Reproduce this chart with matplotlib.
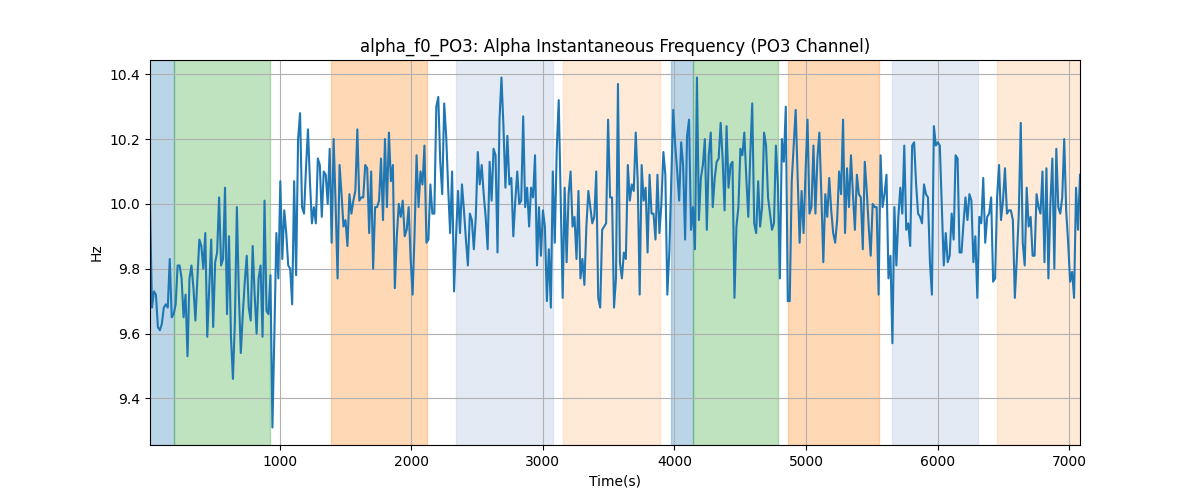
import matplotlib
matplotlib.use('Agg')
import matplotlib.pyplot as plt
import numpy as np

# --- data --------------------------------------------------------------
t_start = 16.0
t_end = 7082.0

alpha_f0 = [
    10.00, 9.68, 9.73, 9.72, 9.62, 9.61, 9.63, 9.68, 9.69, 9.68, 9.83, 9.65, 9.66, 9.69, 9.81,
    9.81, 9.77, 9.65, 9.72, 9.53, 9.77, 9.81, 9.74, 9.64, 9.77, 9.89, 9.87, 9.80, 9.91, 9.59,
    9.74, 9.89, 9.62, 9.82, 9.85, 10.02, 9.81, 9.83, 10.05, 9.66, 9.90, 9.59, 9.46, 9.64, 9.99,
    9.72, 9.54, 9.66, 9.76, 9.84, 9.68, 9.64, 9.87, 9.72, 9.60, 9.77, 9.81, 9.59, 10.01,
    # ~900 - 1800 s
    9.67, 9.66, 9.78, 9.31, 9.60, 9.91, 9.77, 10.07, 9.83, 9.98, 9.91, 9.81, 9.80, 9.69, 10.07,
    9.78, 10.20, 10.28, 9.99, 9.97, 10.11, 10.23, 10.07, 9.94, 9.99, 9.94, 10.14, 10.12, 9.96,
    10.10, 10.09, 10.00, 10.17, 9.88, 10.20, 10.00, 9.77, 10.12, 10.03, 9.93, 9.95, 9.87, 10.03,
    9.97, 10.01, 10.04, 10.23, 10.01, 10.02, 10.02, 10.12, 10.11, 9.91, 10.10, 9.80, 9.99, 9.99,
    10.01, 10.14,
    # ~1800 - 2650 s
    9.95, 10.20, 9.99, 10.22, 10.07, 10.12, 9.74, 9.90, 10.00, 9.96, 10.01, 9.90, 9.92, 9.99,
    9.83, 9.72, 9.91, 10.15, 9.99, 10.10, 10.06, 10.18, 9.88, 9.89, 10.06, 9.97, 9.97, 10.30,
    10.33, 10.13, 10.03, 10.31, 10.21, 10.05, 9.91, 10.10, 9.73, 9.90, 10.04, 9.91, 10.06, 9.98,
    9.89, 9.81, 9.97, 9.95, 9.86, 9.96, 10.16, 10.06, 10.12, 10.03, 9.96, 9.86, 10.13, 10.01,
    10.17, 10.15, 9.85,
    # ~2650 - 3550 s
    10.26, 10.39, 10.24, 10.05, 10.21, 10.06, 10.08, 9.90, 10.01, 10.10, 10.00, 10.01, 10.27,
    9.99, 10.05, 9.93, 10.05, 10.02, 10.15, 9.81, 9.99, 9.84, 9.98, 9.93, 9.70, 9.86, 9.68,
    10.10, 9.88, 10.17, 10.32, 10.01, 9.71, 10.05, 9.82, 10.03, 10.10, 9.93, 9.96, 9.83, 10.04,
    9.77, 9.83, 9.75, 9.93, 10.04, 9.99, 9.94, 9.96, 10.10, 9.71, 9.68, 9.92, 9.93, 9.94, 10.26,
    10.02, 10.02, 9.68,
    # ~3550 - 4400 s
    9.77, 10.37, 9.82, 9.77, 9.85, 9.83, 10.12, 10.01, 10.06, 10.04, 10.22, 10.07, 9.72, 10.12,
    10.01, 10.05, 9.85, 10.09, 9.97, 9.97, 9.89, 10.09, 9.91, 10.00, 10.16, 10.09, 9.72, 9.85,
    10.07, 10.29, 10.18, 10.10, 10.01, 10.19, 10.12, 9.89, 10.21, 10.26, 9.92, 9.99, 9.86,
    10.39, 9.95, 10.08, 10.12, 10.20, 9.92, 10.15, 10.22, 9.99, 10.08, 10.13, 10.14, 10.25,
    10.14, 9.98, 10.24, 10.05,
    # ~4400 - 5300 s
    10.12, 10.13, 9.71, 9.93, 9.99, 10.17, 10.15, 10.22, 10.08, 9.96, 10.15, 10.31, 9.94, 9.91,
    10.07, 9.93, 9.99, 10.22, 10.18, 10.02, 9.97, 9.92, 9.94, 10.18, 10.06, 9.77, 10.20, 10.13,
    10.30, 9.70, 9.70, 10.07, 10.18, 10.29, 10.08, 9.88, 10.04, 9.91, 10.10, 10.26, 9.97, 9.99,
    10.18, 9.97, 10.14, 10.22, 10.03, 9.82, 10.03, 9.96, 10.08, 9.98, 9.91, 9.88, 9.95, 10.10,
    10.03, 10.26, 9.91,
    # ~5300 - 6150 s
    10.11, 9.99, 10.15, 10.03, 9.92, 10.09, 10.03, 10.02, 9.86, 10.13, 10.04, 9.93, 9.84, 10.00,
    9.99, 9.99, 9.72, 10.15, 9.99, 10.03, 10.09, 9.77, 9.84, 9.57, 9.99, 9.81, 9.96, 10.05, 9.97,
    10.18, 9.92, 9.94, 9.87, 10.18, 10.19, 10.06, 9.97, 9.96, 9.94, 10.06, 10.03, 10.02, 9.82,
    9.72, 10.24, 10.18, 10.19, 10.18, 10.00, 9.81, 9.91, 9.82, 9.84, 9.97, 9.89, 10.15, 10.14,
    9.85, 9.85,
    # ~6150 - 7080 s
    9.94, 10.02, 9.95, 10.03, 10.01, 9.82, 9.90, 9.71, 9.96, 9.94, 10.08, 9.88, 9.96, 9.97,
    10.02, 9.76, 9.77, 10.02, 10.12, 9.95, 10.01, 10.11, 9.97, 9.98, 9.98, 9.95, 9.71, 9.83,
    9.97, 10.25, 9.88, 9.81, 10.05, 9.93, 9.96, 9.84, 9.84, 10.03, 9.99, 9.97, 10.10, 9.82,
    10.11, 9.77, 10.00, 10.14, 9.80, 10.17, 9.99, 9.97, 10.02, 10.20, 9.98, 9.88, 9.76, 9.79,
    9.71, 10.05, 9.92, 10.09,
]

# shaded segments: start, end, colour, alpha
span_starts = [0, 197, 1388, 2338, 3152, 3978, 4138, 4862, 5653, 6453]
span_ends = [197, 930, 2123, 3081, 3889, 4138, 4791, 5552, 6304, 7100]
span_colors = ['tab:blue', 'tab:green', 'tab:orange', 'lightsteelblue', 'tab:orange',
               'tab:blue', 'tab:green', 'tab:orange', 'lightsteelblue', 'tab:orange']
span_alphas = [0.3, 0.3, 0.3, 0.35, 0.16, 0.3, 0.3, 0.3, 0.35, 0.16]

time = np.linspace(t_start, t_end, len(alpha_f0))

fig, ax = plt.subplots(figsize=(12, 5), dpi=100)
for s, e, c, a in zip(span_starts, span_ends, span_colors, span_alphas):
    ax.axvspan(s, e, color=c, alpha=a)
ax.plot(time, alpha_f0, color='tab:blue', linewidth=1.5)
ax.set_xlim(time[0], time[-1])
ax.set_title("alpha_f0_PO3: Alpha Instantaneous Frequency (PO3 Channel)")
ax.set_xlabel("Time(s)")
ax.set_ylabel("Hz")
ax.grid(True)

fig.savefig("out.png")
